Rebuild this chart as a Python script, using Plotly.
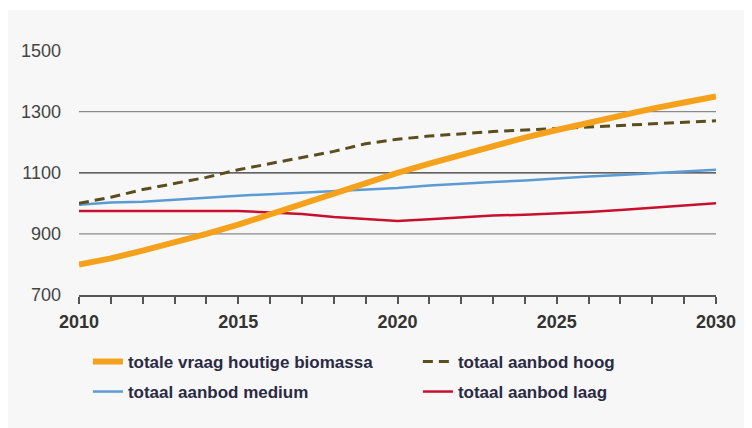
import plotly.graph_objects as go

# Jaren en reeksen
jaren = list(range(2010, 2031))
vraag = [800, 820, 845, 870, 900, 930, 965, 1000, 1035, 1068, 1100,
         1130, 1160, 1190, 1215, 1240, 1265, 1290, 1310, 1330, 1350]
hoog = [1000, 1020, 1045, 1065, 1085, 1110, 1130, 1150, 1170, 1195, 1210,
        1220, 1228, 1235, 1240, 1245, 1250, 1255, 1260, 1265, 1270]
medium = [995, 1003, 1005, 1012, 1018, 1025, 1030, 1035, 1040, 1045, 1050,
          1058, 1065, 1070, 1075, 1082, 1088, 1093, 1098, 1103, 1110]
laag = [975, 975, 975, 975, 975, 975, 970, 965, 955, 948, 942,
        948, 955, 960, 963, 967, 972, 978, 985, 992, 1000]

y_ticks = [700, 900, 1100, 1300, 1500]
x_ticks = [2010, 2015, 2020, 2025, 2030]
gridlijnen = [900, 1100, 1300]

lettertype = 'Liberation Sans, Arial, sans-serif'

fig = go.Figure()

# volgorde: eerst de dunne lijnen, oranje bovenop; elk een eigen legenda-plek
fig.add_trace(go.Scatter(x=jaren, y=laag, mode='lines', name='totaal aanbod laag',
                         legend='legend4', line=dict(color='#C8102E', width=2.5)))
fig.add_trace(go.Scatter(x=jaren, y=medium, mode='lines', name='totaal aanbod medium',
                         legend='legend3', line=dict(color='#5B9BD5', width=2.5)))
fig.add_trace(go.Scatter(x=jaren, y=hoog, mode='lines', name='totaal aanbod hoog',
                         legend='legend2', line=dict(color='#5A4E1E', width=3, dash='10px,6px')))
fig.add_trace(go.Scatter(x=jaren, y=vraag, mode='lines', name='totale vraag houtige biomassa',
                         legend='legend', line=dict(color='#F5A11C', width=6)))

# achtergrondvlak en gridlijnen (1100 donkerder)
shapes = [dict(type='rect', xref='paper', yref='paper', x0=-0.1115, x1=1.07,
               y0=-0.6, y1=1.036, fillcolor='#F7F7F7', line=dict(width=0), layer='below')]
for g in gridlijnen:
    shapes.append(dict(type='line', xref='paper', yref='y', x0=0, x1=1, y0=g, y1=g,
                       line=dict(color='#333333' if g == 1100 else '#8A8A8A', width=1.2),
                       layer='below'))

legenda = dict(
    orientation='h', xanchor='left', yanchor='middle',
    font=dict(size=17, color='#2A2A44', family=lettertype, weight='bold'),
    bgcolor='rgba(0,0,0,0)', itemwidth=30,
)

fig.update_layout(
    width=752, height=428,
    # de pagina heeft 8px body-marge; daarom links/boven 8px minder
    margin=dict(l=71, r=44, t=12, b=141),
    paper_bgcolor='white',
    plot_bgcolor='rgba(0,0,0,0)',
    font=dict(family=lettertype, color='#333333'),
    shapes=shapes,
    showlegend=True,
    legend=dict(legenda, x=0.014, y=-0.2436),
    legend2=dict(legenda, x=0.532, y=-0.2436),
    legend3=dict(legenda, x=0.014, y=-0.3527),
    legend4=dict(legenda, x=0.532, y=-0.3527),
    xaxis=dict(
        range=[2010, 2030], tickvals=x_ticks, showgrid=False, zeroline=False,
        showline=True, linecolor='#555555', linewidth=2,
        ticks='outside', ticklen=7, tickcolor='#555555', tickwidth=1.5,
        minor=dict(dtick=1, ticks='outside', ticklen=7, tickcolor='#555555', tickwidth=1.5),
        tickfont=dict(size=18, color='#333333', family=lettertype, weight='bold'),
        ticklabelstandoff=2, automargin=False,
    ),
    yaxis=dict(
        range=[700, 1600], tickvals=y_ticks, showgrid=False, zeroline=False,
        showline=False, ticks='', ticklabelstandoff=17, automargin=False,
        tickfont=dict(size=18, color='#444444'),
    ),
)

fig.write_html("out.html")
